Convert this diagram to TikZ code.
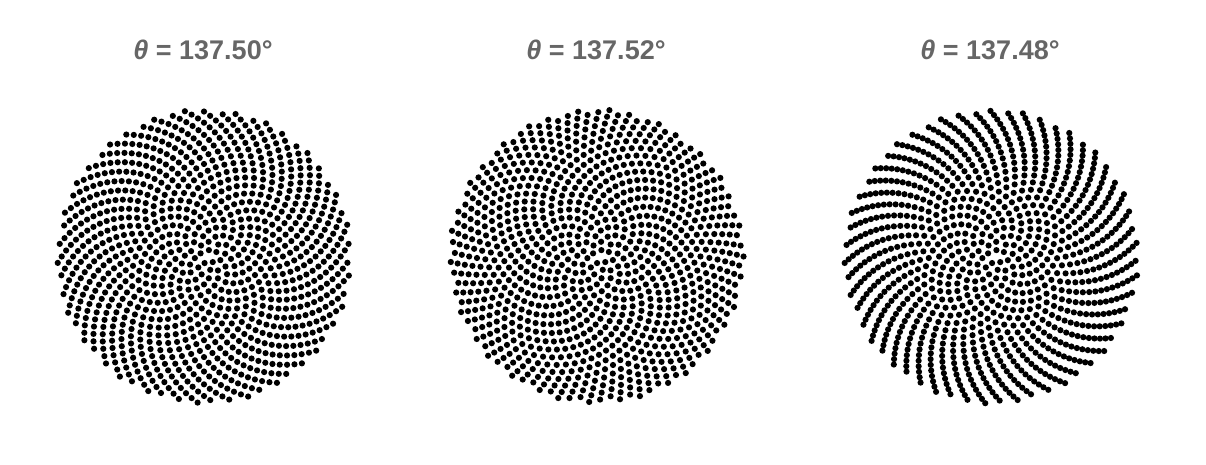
\documentclass[tikz,border=0pt]{standalone}
\usepackage{fontspec}
\setmainfont{Liberation Sans}
\usetikzlibrary{positioning}
\definecolor{titleGray}{RGB}{102,102,102}

% dots of a sunflower head: centre x, centre y, divergence angle
\newcommand{\seedhead}[3]{%
  \foreach \n in {1,...,1000} {
    \fill (\fpeval{#1+4.65*sqrt(\n)*cosd(\n*#3)}, \fpeval{#2+4.65*sqrt(\n)*sind(\n*#3)}) circle (3.1);
  }%
}

\begin{document}
\begin{tikzpicture}[x=1pt, y=1pt,
    titletext/.style={text=titleGray, font=\fontsize{27}{32}\selectfont\bfseries}]
    \useasboundingbox (0,0) rectangle (1206,464);
    \node[titletext] (titleA) at (203,414) {{\itshape θ} = 137.50°};
    \node[titletext] (titleB) at (596,414) {{\itshape θ} = 137.52°};
    \node[titletext] (titleC) at (990,414) {{\itshape θ} = 137.48°};
    \seedhead{204}{207.5}{137.50}
    \seedhead{596.5}{207.5}{137.52}
    \seedhead{991.5}{207.5}{137.48}
\end{tikzpicture}
\end{document}
